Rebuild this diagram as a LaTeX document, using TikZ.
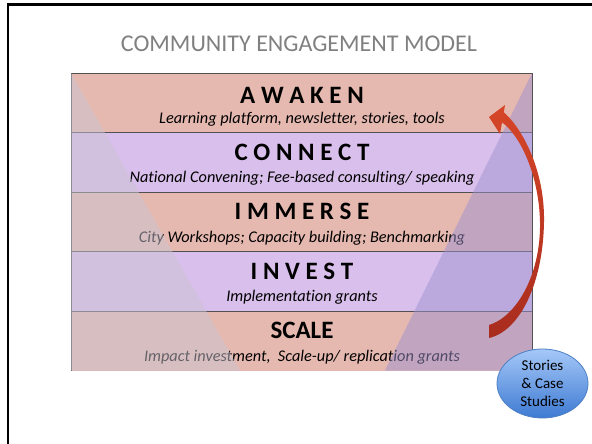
\documentclass[tikz,border=0pt]{standalone}
\usepackage{fontspec}
\setmainfont{Carlito}[Ligatures=NoCommon]
\usetikzlibrary{shapes.geometric}

\definecolor{pinkrow}{RGB}{230,185,176}
\definecolor{purplerow}{RGB}{217,191,235}
\definecolor{sideleft}{RGB}{202,196,210}
\definecolor{sideright}{RGB}{158,146,208}
\definecolor{rule}{RGB}{80,80,80}
\definecolor{titlegray}{RGB}{128,128,128}
\definecolor{arrowtop}{RGB}{214,70,40}
\definecolor{arrowbot}{RGB}{168,44,30}
\definecolor{bubbletop}{RGB}{165,200,248}
\definecolor{bubblebot}{RGB}{62,122,210}
\definecolor{bubbleedge}{RGB}{78,128,196}

\tikzset{
  stage/.style={anchor=base, inner sep=0pt, font=\fontsize{25}{30}\selectfont\bfseries},
  detail/.style={anchor=base, inner sep=0pt, font=\fontsize{16.3}{19}\selectfont\itshape},
  rowline/.style={draw=rule, line width=0.8pt},
  bubble/.style={ellipse, draw=bubbleedge, line width=0.8pt, top color=bubbletop,
    bottom color=bubblebot, minimum width=91pt, minimum height=69pt, inner sep=0pt,
    align=center, font=\fontsize{15}{18}\selectfont},
}

\begin{document}
\begin{tikzpicture}[x=1pt, y=-1pt]
\useasboundingbox (0,0) rectangle (592,444);
\fill[white] (0,0) rectangle (592,444);

% slide frame
\draw[line width=2.2pt] (8.3,444) -- (8.3,4.6) -- (592,4.6);

% title
\node[anchor=base, inner sep=0pt, text=titlegray, font=\fontsize{24}{28}\selectfont]
  (title) at (299,52) {COMMUNITY ENGAGEMENT MODEL};

% stage bands
\fill[pinkrow]   (71,73)    rectangle (532,132.5);
\fill[purplerow] (71,132.5) rectangle (532,192);
\fill[pinkrow]   (71,192)   rectangle (532,251.5);
\fill[purplerow] (71,251.5) rectangle (532,311);
\fill[pinkrow]   (71,311)   rectangle (532,370.5);
\draw[rowline] (71,370.5) -- (71,73) -- (532,73) -- (532,370.5);
\foreach \yy in {132.5,192,251.5,311}
  \draw[rowline] (71,\yy) -- (532,\yy);

% stage names and activities
\node[stage]  (awaken)  at (302,103) {A W A K E N};
\node[detail] (awakenD) at (302,123) {Learning platform, newsletter, stories, tools};
\node[stage]  (connect) at (302,160.5) {C O N N E C T};
\node[detail] (connectD) at (302,182) {National Convening; Fee-based consulting/ speaking};
\node[stage]  (immerse) at (302,219) {I M M E R S E};
\node[detail] (immerseD) at (302,242) {City Workshops; Capacity building; Benchmarking};
\node[stage]  (invest)  at (302,279) {I N V E S T};
\node[detail] (investD) at (302,301) {Implementation grants};
\node[stage]  (scale)   at (302,338) {SCALE};
\node[detail] (scaleD)  at (302,361) {Impact investment,\ \ Scale-up/ replication grants};

% translucent side wedges forming the funnel
\fill[sideleft, opacity=0.5]  (71,73) -- (240,370.5) -- (71,370.5) -- cycle;
\fill[sideright, opacity=0.5] (532,73) -- (532,370.5) -- (385,370.5) -- cycle;

% curved feedback arrow
\shade[top color=arrowtop, bottom color=arrowbot]
  (503.8,112.3) .. controls (522,128) and (545,170) .. (544,222)
  .. controls (543,283) and (520,331) .. (489,338)
  -- (489,325)
  .. controls (516,317) and (541,275) .. (540,222)
  .. controls (539,175) and (520,135) .. (502,122.4)
  -- (500,134) -- (489,117) -- (505,105) -- cycle;

% stories bubble
\node[bubble] (stories) at (542.5,383.5) {Stories\\\& Case\\Studies};
\end{tikzpicture}
\end{document}
